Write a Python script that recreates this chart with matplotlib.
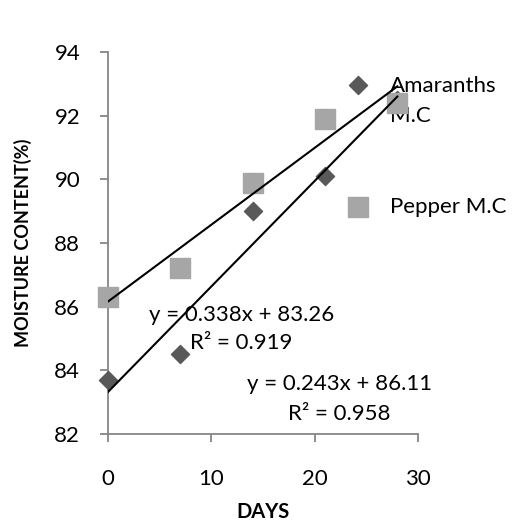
import matplotlib
matplotlib.use("Agg")
import matplotlib.pyplot as plt
import numpy as np

plt.rcParams['font.family'] = ['Lato', 'DejaVu Sans']

days = [0, 7, 14, 21, 28]
amaranths = [83.7, 84.5, 89.0, 90.1, 92.5]
pepper = [86.3, 87.2, 89.9, 91.9, 92.4]
eq_amaranths = "y = 0.338x + 83.26\nR² = 0.919"
eq_pepper = "y = 0.243x + 86.11\nR² = 0.958"

fig = plt.figure(figsize=(5.18, 5.21), dpi=100)
ax = fig.add_axes([108/518, 1 - 434/521, 310/518, 382/521])

ax.scatter(days, amaranths, marker='D', s=85, color='#595959', zorder=3, clip_on=False)
ax.scatter(days, pepper, marker='s', s=210, color='#a6a6a6', zorder=4, clip_on=False)

# linear trendlines
x_fit = np.array([min(days), max(days)])
for ys in (amaranths, pepper):
    c = np.polyfit(days, ys, 1)
    ax.plot(x_fit, np.polyval(c, x_fit), color='black', lw=1.5, zorder=5)

ax.text(12.9, 85.3, eq_amaranths, ha='center', va='center', fontsize=16,
        linespacing=1.5)
ax.text(22.4, 83.1, eq_pepper, ha='center', va='center', fontsize=16,
        linespacing=1.65)

# legend drawn like the Excel one, overlapping the plot
ax.scatter([24.2], [92.97], marker='D', s=85, color='#595959', clip_on=False, zorder=3)
ax.text(27.3, 92.46, "Amaranths\nM.C", ha='left', va='center', fontsize=16,
        linespacing=1.6)
ax.scatter([24.2], [89.13], marker='s', s=210, color='#a6a6a6', clip_on=False, zorder=3)
ax.text(27.3, 89.13, "Pepper M.C", ha='left', va='center', fontsize=16)

ax.set_xlim(0, 30)
ax.set_ylim(82, 94)
ax.set_xticks([0, 10, 20, 30])
ax.set_yticks(range(82, 95, 2))
for s in ['top', 'right']:
    ax.spines[s].set_visible(False)
for s in ['left', 'bottom']:
    ax.spines[s].set_color('#868686')
    ax.spines[s].set_linewidth(1.3)
ax.tick_params(colors='#868686', labelcolor='black', labelsize=16, length=6,
               width=1.3, direction='out')
ax.tick_params(axis='x', pad=19)
ax.tick_params(axis='y', pad=14)
ax.set_xlabel('DAYS', fontsize=14.5, fontweight='bold', va='center')
ax.xaxis.set_label_coords(0.5, -0.204)
ax.set_ylabel('MOISTURE CONTENT(%)', fontsize=13, fontweight='bold', va='center')
ax.yaxis.set_label_coords(-0.274, 0.5)

fig.savefig('out.png', dpi=100)
